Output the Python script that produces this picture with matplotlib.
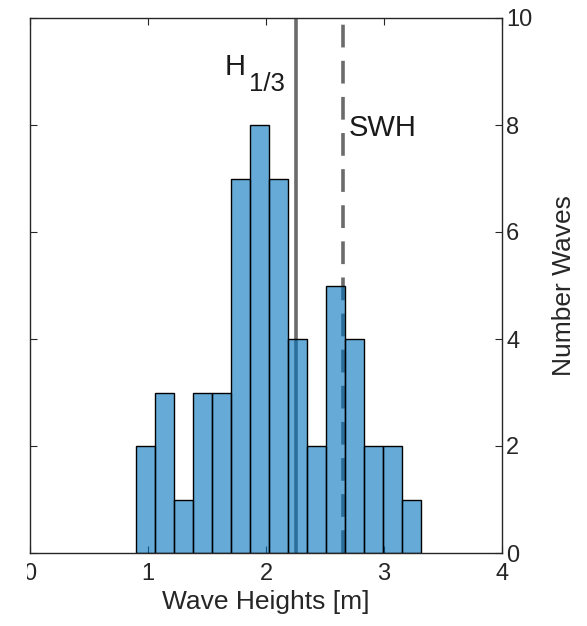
import matplotlib.pyplot as plt
from matplotlib.patches import Rectangle

# histogram data
bin_start = 0.896
bin_width = 0.161
counts = [2, 3, 1, 3, 3, 7, 8, 7, 4, 2, 5, 4, 2, 2, 1]
h13 = 2.255
swh = 2.655
x_ticks = [0, 1, 2, 3, 4]
y_ticks = [0, 2, 4, 6, 8, 10]

plt.rcParams['font.family'] = ['Liberation Sans', 'DejaVu Sans']

W, H = 587, 626
fig = plt.figure(figsize=(W / 100, H / 100), dpi=100)
ax = fig.add_axes([30 / W, 1 - 553 / H, 472 / W, 535 / H])

edges = [bin_start + i * bin_width for i in range(len(counts))]

# reference lines sit under the semi-transparent bars
ax.axvline(h13, color='k', alpha=0.58, lw=2.6, zorder=1)
ax.axvline(swh, color='k', alpha=0.58, lw=2.6, zorder=1, dashes=(6.3, 3.7))

ax.bar(edges, counts, width=bin_width, align='edge',
       color=(0, 0.447, 0.741, 0.6), edgecolor='k', linewidth=1.0, zorder=2)

# H with a MATLAB-style (large, low) subscript
ax.text(1.83, 9.08, 'H', fontsize=21, ha='right', va='center', color='#1a1a1a')
ax.text(1.855, 8.76, '1/3', fontsize=18.5, ha='left', va='center', color='#1a1a1a')
ax.text(2.70, 7.94, 'SWH', fontsize=21, ha='left', va='center', color='#1a1a1a')

ax.set_xlim(0, 4)
ax.set_ylim(0, 10)
ax.set_xticks(x_ticks)
ax.set_yticks(y_ticks)
ax.yaxis.tick_right()
ax.yaxis.set_label_position('right')
ax.tick_params(direction='in', length=5, width=0.8, labelsize=17,
               top=True, bottom=True, left=True, right=True, colors='#262626')
ax.tick_params(axis='x', pad=7)
ax.tick_params(axis='y', pad=3)
for s in ax.spines.values():
    s.set_color('#262626')
    s.set_linewidth(1.0)

ax.set_xlabel('Wave Heights [m]', fontsize=19, color='#262626', labelpad=4)
ax.set_ylabel('Number Waves', fontsize=19, color='#262626', labelpad=14)

# the original picture is cropped just left of the axes
fig.patches.append(Rectangle((0, 0), 27 / W, 1, transform=fig.transFigure,
                             facecolor='white', edgecolor='none', zorder=10))

fig.savefig('out.png', dpi=100)
